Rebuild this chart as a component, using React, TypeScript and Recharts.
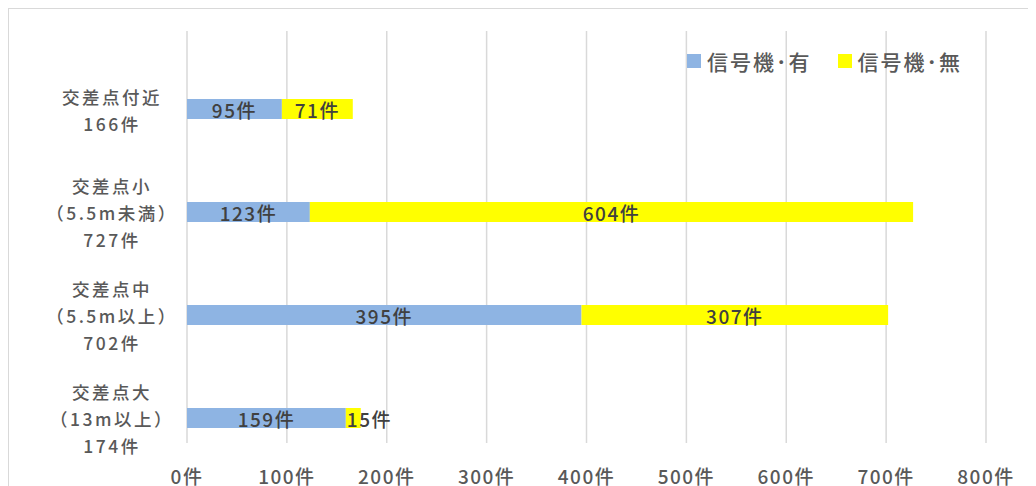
import React from "react";
import { BarChart, Bar, XAxis, YAxis, CartesianGrid, LabelList } from "recharts";

const categories = ["交差点付近", "交差点小", "交差点中", "交差点大"];
const categoryLines = [
  ["交差点付近", "166件"],
  ["交差点小", "（5.5m未満）", "727件"],
  ["交差点中", "（5.5m以上）", "702件"],
  ["交差点大", "（13m以上）", "174件"],
];
const withSignal = [95, 123, 395, 159];
const withoutSignal = [71, 604, 307, 15];
const seriesNames = ["信号機･有", "信号機･無"];
const seriesColors = ["#8EB4E3", "#FFFF00"];
const xTicks = [0, 100, 200, 300, 400, 500, 600, 700, 800];

const data = categories.map((c, i) => ({ name: c, a: withSignal[i], b: withoutSignal[i] }));

const FONT = "'Noto Sans CJK JP', 'Noto Sans', sans-serif";
const TEXT = "#595959";

const YTick = (props: any) => {
  const { y, payload } = props;
  const idx = categories.indexOf(payload.value);
  const lines = categoryLines[idx] || [payload.value];
  const n = lines.length;
  return (
    <g>
      {lines.map((l, i) => (
        <text
          key={i}
          x={104}
          y={y + (i - (n - 1) / 2) * 27 + 1}
          textAnchor="middle"
          dominantBaseline="central"
          fill={TEXT}
          fontSize={17.5}
          fontWeight={500}
          letterSpacing={2.5}
          fontFamily={FONT}
        >
          {l}
        </text>
      ))}
    </g>
  );
};

const XTick = (props: any) => {
  const { x, y, payload } = props;
  return (
    <text
      x={x}
      y={y + 6}
      textAnchor="middle"
      dominantBaseline="central"
      fill={TEXT}
      fontSize={19}
      fontWeight={500}
      letterSpacing={1.5}
      fontFamily={FONT}
    >
      {`${payload.value}件`}
    </text>
  );
};

const renderLabel = (props: any) => {
  const { x, y, width, height, value } = props;
  const text = `${value}件`;
  const small = width < 30;
  return (
    <text
      x={small ? x + 1 : x + width / 2}
      y={y + height / 2}
      textAnchor={small ? "start" : "middle"}
      dominantBaseline="central"
      fill="#404040"
      fontSize={19}
      fontWeight={500}
      letterSpacing={1.5}
      fontFamily={FONT}
    >
      {text}
    </text>
  );
};

const LegendBox = () => (
  <div
    style={{
      position: "absolute",
      left: 678,
      top: 37,
      display: "flex",
      alignItems: "center",
      fontFamily: FONT,
      fontSize: 21,
      fontWeight: 500,
      color: TEXT,
      letterSpacing: 2,
      whiteSpace: "nowrap",
    }}
  >
    {seriesNames.map((s, i) => (
      <div key={i} style={{ display: "flex", alignItems: "center", marginRight: i === 0 ? 26 : 0 }}>
        <span style={{ display: "inline-block", width: 14, height: 14, background: seriesColors[i], marginRight: 6 }} />
        <span>{s}</span>
      </div>
    ))}
  </div>
);

export default function App() {
  return (
    <div style={{ width: 1028, height: 478, overflow: "hidden", position: "relative", borderLeft: "1px solid #D9D9D9", borderTop: "1px solid #D9D9D9", boxSizing: "border-box" }}>
      <div style={{ position: "absolute", left: -1, top: -1 }}>
        <BarChart
          width={1029}
          height={479}
          data={data}
          layout="vertical"
          margin={{ top: 49, right: 51, bottom: 0, left: 0 }}
          barSize={20}
        >
          <CartesianGrid vertical={true} horizontal={false} stroke="#D9D9D9" strokeWidth={1.5} y={23} height={412} />
          <XAxis
            type="number"
            domain={[0, 800]}
            ticks={xTicks}
            axisLine={false}
            tickLine={false}
            tickSize={0}
            tickMargin={0}
            height={18}
            interval={0}
            tick={<XTick />}
          />
          <YAxis
            type="category"
            dataKey="name"
            width={179}
            axisLine={false}
            tickLine={false}
            tick={<YTick />}
            interval={0}
          />
          <Bar dataKey="a" name={seriesNames[0]} stackId="s" fill={seriesColors[0]} isAnimationActive={false}>
            <LabelList dataKey="a" content={renderLabel} />
          </Bar>
          <Bar dataKey="b" name={seriesNames[1]} stackId="s" fill={seriesColors[1]} isAnimationActive={false}>
            <LabelList dataKey="b" content={renderLabel} />
          </Bar>
        </BarChart>
      </div>
      <LegendBox />
    </div>
  );
}
